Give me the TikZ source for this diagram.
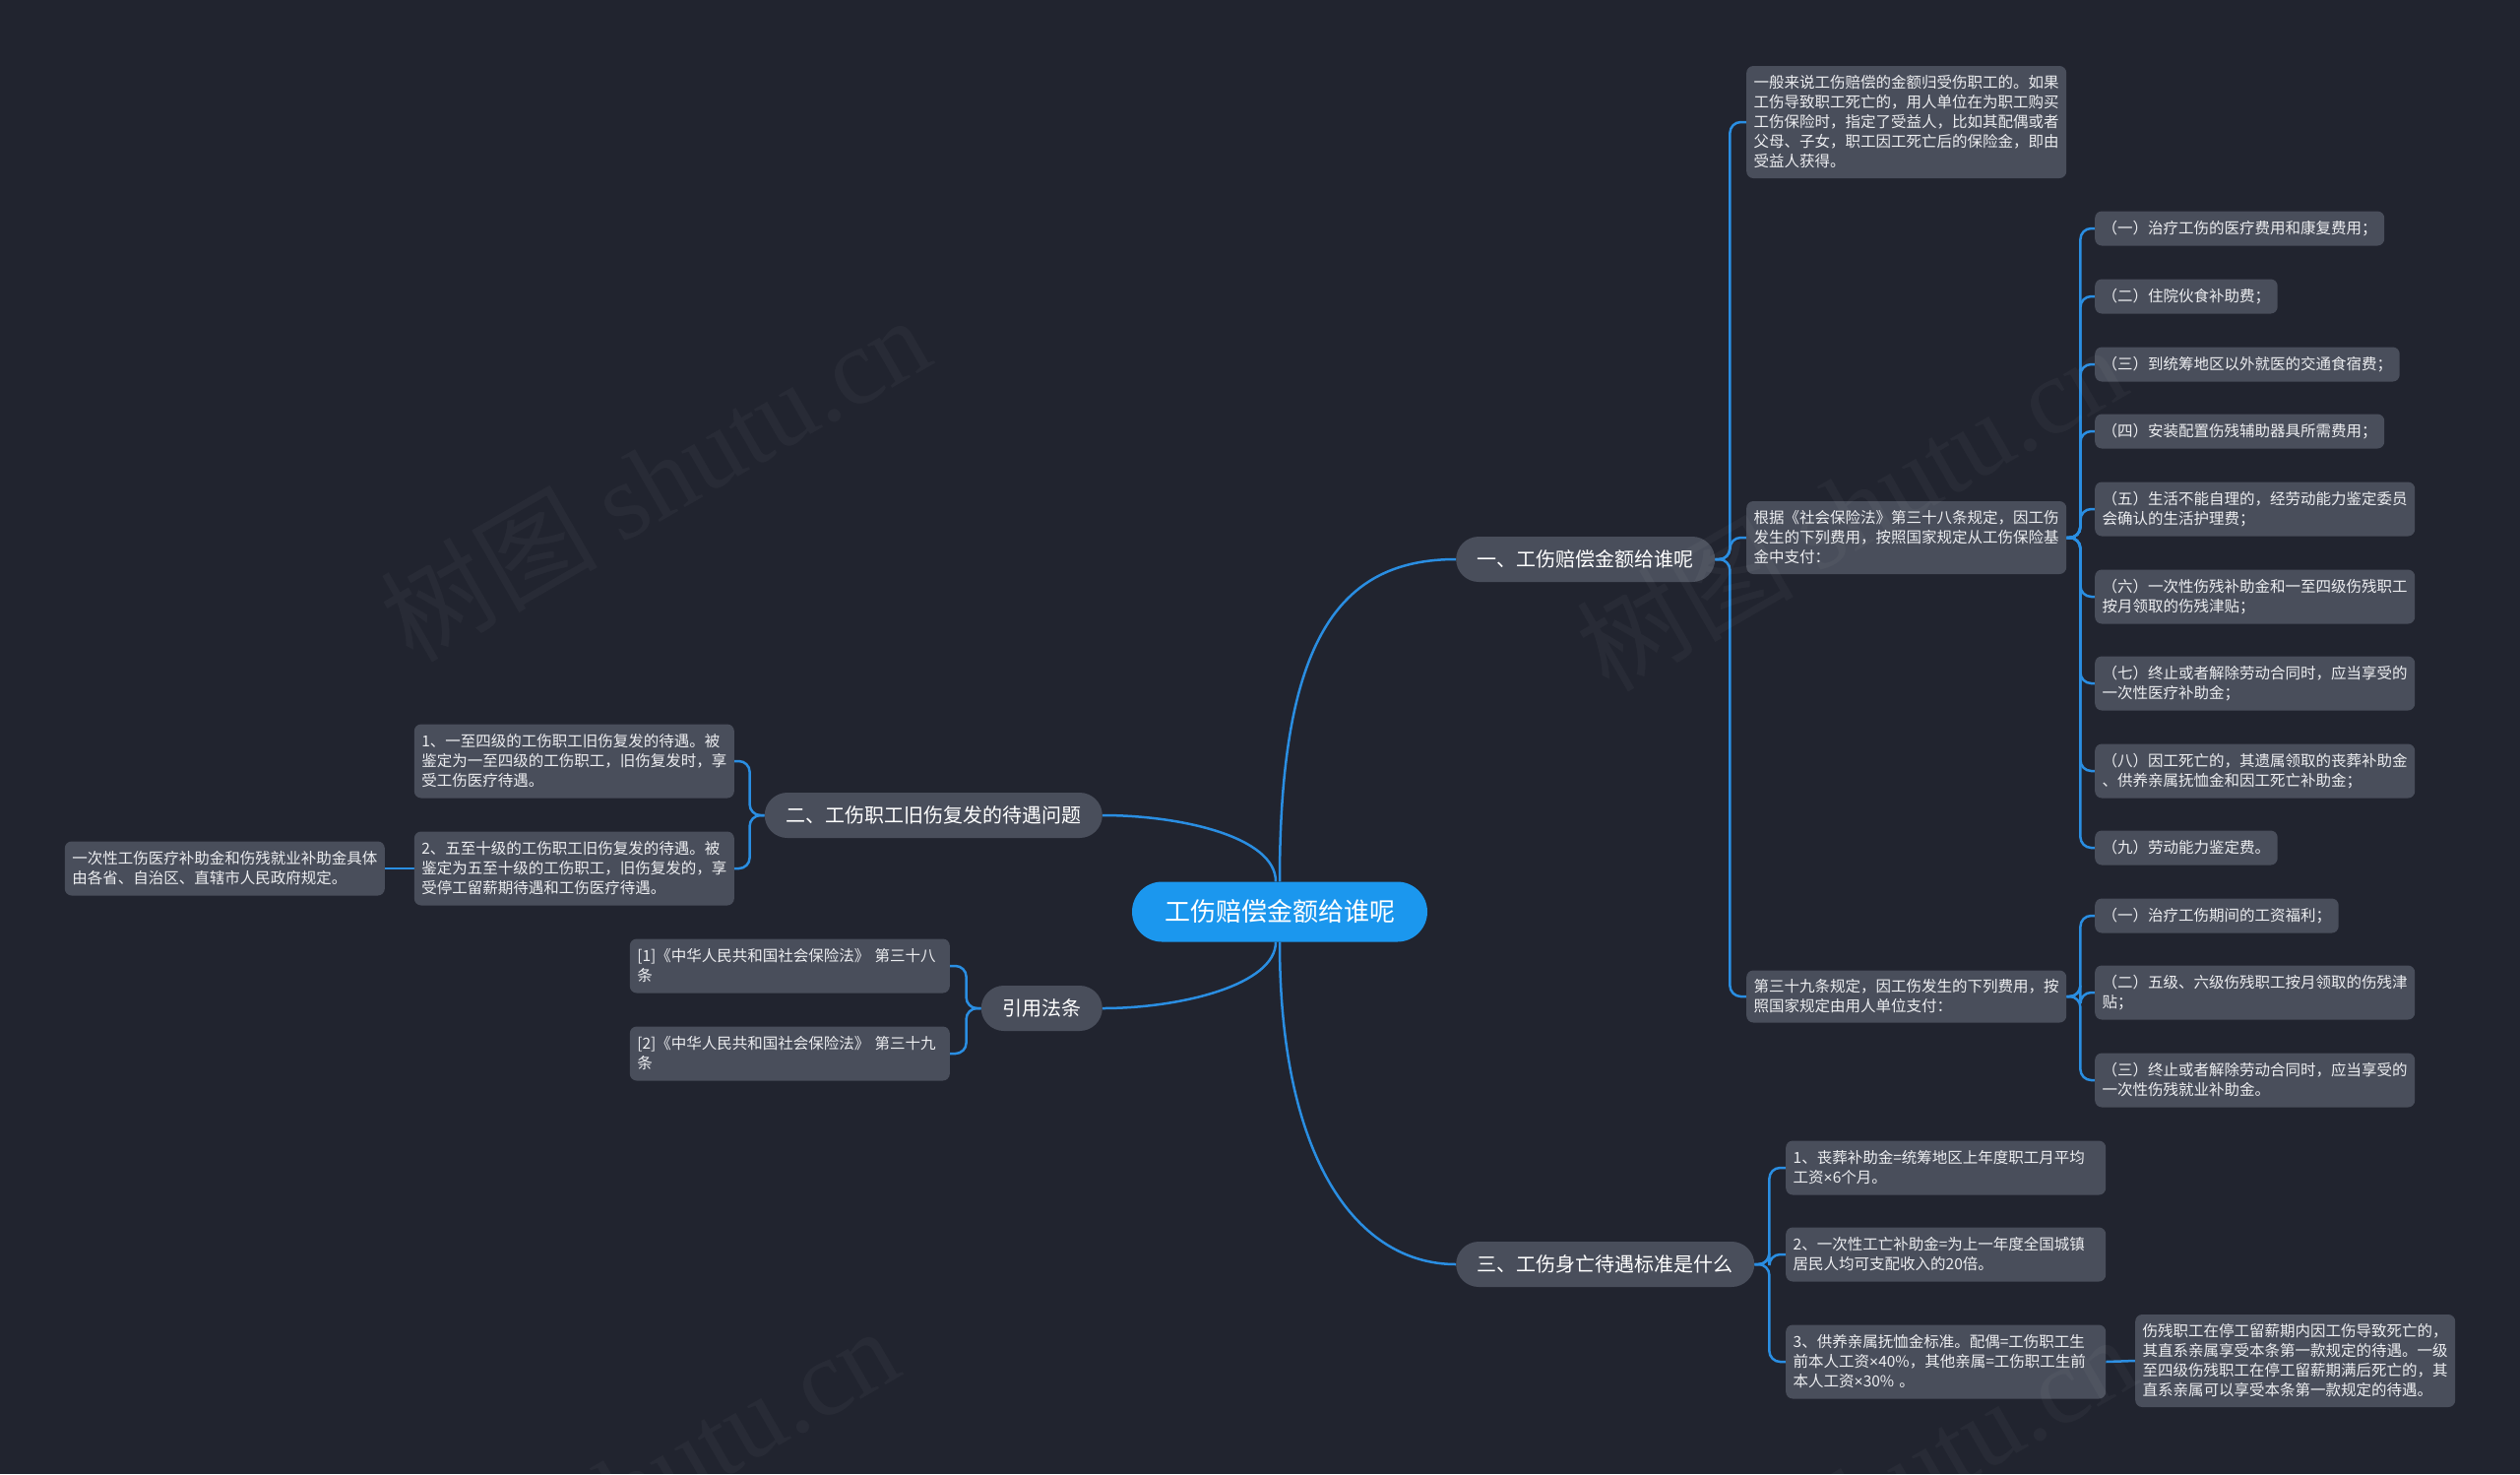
\documentclass[tikz,border=0pt]{standalone}
\usepackage{fontspec}
\setmainfont{Noto Sans CJK SC}
\newfontfamily\wmlatin{Liberation Serif}
\newfontfamily\narrowfont{Liberation Sans}
\newcommand\tms{{\narrowfont ×}}
\pgfdeclarelayer{bg}
\pgfsetlayers{bg,main}
\definecolor{bgc}{RGB}{33,36,47}
\definecolor{boxc}{RGB}{73,78,91}
\definecolor{rootc}{RGB}{27,151,238}
\definecolor{linec}{RGB}{42,142,226}
\definecolor{txt}{RGB}{236,237,240}
\newcommand\leaffont{\fontsize{15.5pt}{20pt}\selectfont}
\newcommand\midfont{\fontsize{20pt}{24pt}\selectfont}
\newcommand\bigfont{\fontsize{26pt}{30pt}\selectfont}
\newcommand\wmfont{\fontsize{110pt}{120pt}\selectfont}
\tikzset{
  leaf/.style={fill=boxc, rounded corners=7pt, text=txt, font=\leaffont,
    inner xsep=7.5pt, inner ysep=0pt, align=left},
  multi/.style={text width=310pt},
  lvl/.style={fill=boxc, rounded corners=23pt, text=white, font=\midfont,
    inner xsep=21.5pt, inner ysep=0pt, minimum height=46pt},
  rootn/.style={fill=rootc, rounded corners=30.5pt, text=white, font=\bigfont,
    inner xsep=33pt, inner ysep=0pt, minimum height=61pt},
  conn/.style={draw=linec, line width=2.5pt},
  brace/.style={conn, rounded corners=11pt},
  wmark/.style={text=white, text opacity=0.035, font=\wmfont, rotate=30}
}
\begin{document}
\begin{tikzpicture}[x=1pt, y=-1pt]
\begin{pgfonlayer}{bg}
  \fill[bgc] (0,0) rectangle (2560,1497);
\end{pgfonlayer}
\useasboundingbox (0,0) rectangle (2560,1497);

% root and main branches
\node[rootn] (root) at (1300,926) {工伤赔偿金额给谁呢};
\node[lvl, anchor=west] (A) at (1479,568) {一、工伤赔偿金额给谁呢};
\node[lvl, anchor=east] (B) at (1120,828) {二、工伤职工旧伤复发的待遇问题};
\node[lvl, anchor=east] (C) at (1120,1024) {引用法条};
\node[lvl, anchor=west] (D) at (1479,1284) {三、工伤身亡待遇标准是什么};

% branch A
\node[leaf, multi, anchor=west, minimum height=114pt] (A1) at (1774,124) {一般来说工伤赔偿的金额归受伤职工的。如果\\工伤导致职工死亡的，用人单位在为职工购买\\工伤保险时，指定了受益人，比如其配偶或者\\父母、子女，职工因工死亡后的保险金，即由\\受益人获得。};
\node[leaf, multi, anchor=west, minimum height=74pt] (A2) at (1774,546) {根据《社会保险法》第三十八条规定，因工伤\\发生的下列费用，按照国家规定从工伤保险基\\金中支付：};
\node[leaf, multi, anchor=west, minimum height=53pt] (A3) at (1774,1012) {第三十九条规定，因工伤发生的下列费用，按\\照国家规定由用人单位支付：};

\node[leaf, anchor=west, minimum height=35pt] (A21) at (2128,232) {（一）治疗工伤的医疗费用和康复费用；};
\node[leaf, anchor=west, minimum height=35pt] (A22) at (2128,301) {（二）住院伙食补助费；};
\node[leaf, anchor=west, minimum height=35pt] (A23) at (2128,370) {（三）到统筹地区以外就医的交通食宿费；};
\node[leaf, anchor=west, minimum height=35pt] (A24) at (2128,438) {（四）安装配置伤残辅助器具所需费用；};
\node[leaf, multi, anchor=west, minimum height=55pt] (A25) at (2128,517) {（五）生活不能自理的，经劳动能力鉴定委员\\会确认的生活护理费；};
\node[leaf, multi, anchor=west, minimum height=55pt] (A26) at (2128,606) {（六）一次性伤残补助金和一至四级伤残职工\\按月领取的伤残津贴；};
\node[leaf, multi, anchor=west, minimum height=55pt] (A27) at (2128,694) {（七）终止或者解除劳动合同时，应当享受的\\一次性医疗补助金；};
\node[leaf, multi, anchor=west, minimum height=55pt] (A28) at (2128,783) {（八）因工死亡的，其遗属领取的丧葬补助金\\、供养亲属抚恤金和因工死亡补助金；};
\node[leaf, anchor=west, minimum height=35pt] (A29) at (2128,861) {（九）劳动能力鉴定费。};

\node[leaf, anchor=west, minimum height=35pt] (A31) at (2128,930) {（一）治疗工伤期间的工资福利；};
\node[leaf, multi, anchor=west, minimum height=55pt] (A32) at (2128,1008) {（二）五级、六级伤残职工按月领取的伤残津\\贴；};
\node[leaf, multi, anchor=west, minimum height=55pt] (A33) at (2128,1097) {（三）终止或者解除劳动合同时，应当享受的\\一次性伤残就业补助金。};

% branch B
\node[leaf, multi, anchor=east, minimum height=75pt] (B1) at (746,773) {1、一至四级的工伤职工旧伤复发的待遇。被\\鉴定为一至四级的工伤职工，旧伤复发时，享\\受工伤医疗待遇。};
\node[leaf, multi, anchor=east, minimum height=75pt] (B2) at (746,882) {2、五至十级的工伤职工旧伤复发的待遇。被\\鉴定为五至十级的工伤职工，旧伤复发的，享\\受停工留薪期待遇和工伤医疗待遇。};
\node[leaf, multi, anchor=east, minimum height=55pt] (B21) at (391,882) {一次性工伤医疗补助金和伤残就业补助金具体\\由各省、自治区、直辖市人民政府规定。};

% branch C
\node[leaf, multi, anchor=east, minimum height=55pt] (C1) at (965,981) {[1]《中华人民共和国社会保险法》 第三十八\\条};
\node[leaf, multi, anchor=east, minimum height=55pt] (C2) at (965,1070) {[2]《中华人民共和国社会保险法》 第三十九\\条};

% branch D
\node[leaf, multi, anchor=west, minimum height=55pt] (D1) at (1814,1186) {1、丧葬补助金=统筹地区上年度职工月平均\\工资\tms 6个月。};
\node[leaf, multi, anchor=west, minimum height=55pt] (D2) at (1814,1274) {2、一次性工亡补助金=为上一年度全国城镇\\居民人均可支配收入的20倍。};
\node[leaf, multi, anchor=west, minimum height=75pt] (D3) at (1814,1383) {3、供养亲属抚恤金标准。配偶=工伤职工生\\前本人工资\tms 40\%，其他亲属=工伤职工生前\\本人工资\tms 30\% 。};
\node[leaf, multi, anchor=west, minimum height=94pt] (D31) at (2169,1382) {伤残职工在停工留薪期内因工伤导致死亡的，\\其直系亲属享受本条第一款规定的待遇。一级\\至四级伤残职工在停工留薪期满后死亡的，其\\直系亲属可以享受本条第一款规定的待遇。};

% connectors
\begin{pgfonlayer}{bg}
  \draw[conn] (root.north) .. controls (1300,650) and (1360,568) .. (A.west);
  \draw[conn] ([xshift=-4pt]root.north) .. controls (1296,850) and (1200,828) .. (B.east);
  \draw[conn] ([xshift=-4pt]root.south) .. controls (1296,1000) and (1200,1024) .. (C.east);
  \draw[conn] (root.south) .. controls (1300,1180) and (1380,1284) .. (D.west);

  \foreach \c in {A1,A2,A3} \draw[brace] (A.east) -- ++(15,0) |- (\c.west);
  \foreach \c in {A21,A22,A23,A24,A25,A26,A27,A28,A29} \draw[brace] (A2.east) -- ++(14,0) |- (\c.west);
  \foreach \c in {A31,A32,A33} \draw[brace] (A3.east) -- ++(14,0) |- (\c.west);
  \foreach \c in {B1,B2} \draw[brace] (B.west) -- ++(-15,0) |- (\c.east);
  \draw[conn] (B2.west) -- (B21.east);
  \foreach \c in {C1,C2} \draw[brace] (C.west) -- ++(-15,0) |- (\c.east);
  \foreach \c in {D1,D2,D3} \draw[brace] (D.east) -- ++(15,0) |- (\c.west);
  \draw[conn] (D3.east) -- (D31.west);
\end{pgfonlayer}

% watermarks
\node[wmark] (w1) at (665,485) {树图 {\wmlatin shutu.cn}};
\node[wmark] (w2) at (1880,515) {树图 {\wmlatin shutu.cn}};
\node[wmark] (w3) at (633,1512) {树图 {\wmlatin shutu.cn}};
\node[wmark] (w4) at (1890,1520) {树图 {\wmlatin shutu.cn}};
\end{tikzpicture}
\end{document}
